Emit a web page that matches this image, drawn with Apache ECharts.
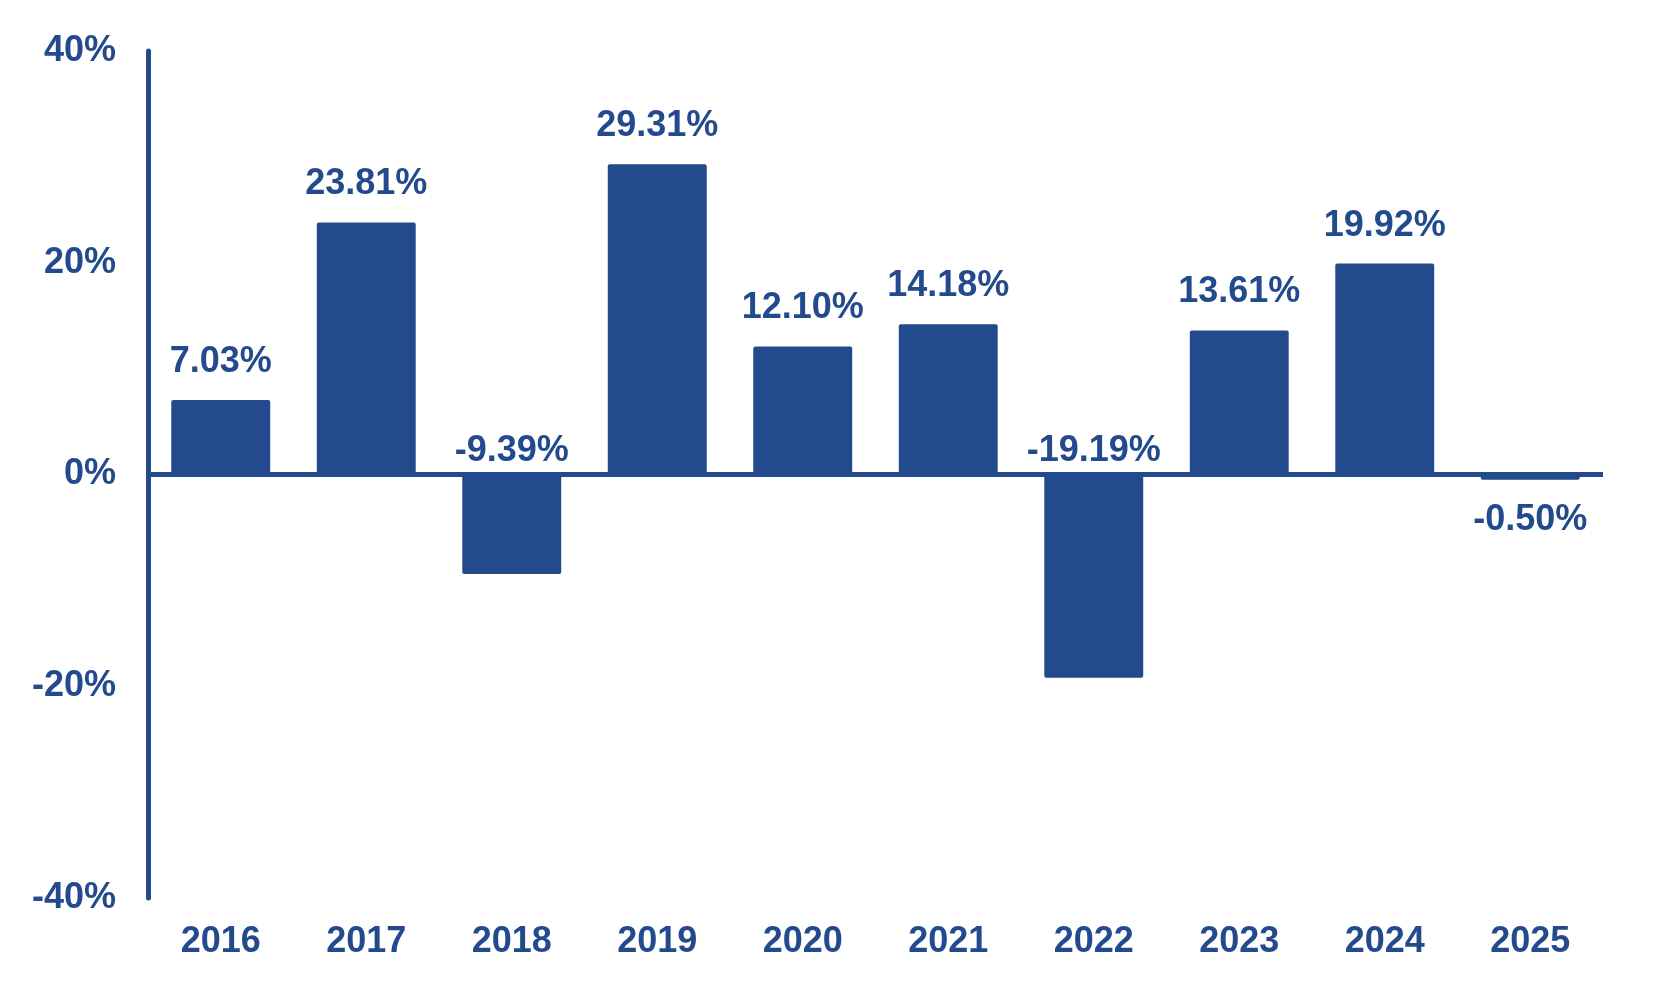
<!DOCTYPE html>
<html>
<head>
<meta charset="utf-8">
<script src="https://cdn.jsdelivr.net/npm/echarts@6/dist/echarts.min.js"></script>
<style>
html,body{margin:0;padding:0;background:#fff;}
#chart{width:1654px;height:990px;}
</style>
</head>
<body>
<div id="chart"></div>
<script>
const categories = ['2016','2017','2018','2019','2020','2021','2022','2023','2024','2025'];
const returns = [7.03, 23.81, -9.39, 29.31, 12.10, 14.18, -19.19, 13.61, 19.92, -0.50];
const labelTexts = ['7.03%','23.81%','-9.39%','29.31%','12.10%','14.18%','-19.19%','13.61%','19.92%','-0.50%'];
// label placement per bar: 'top' = above rect on screen, 'bottom' = below rect
const labelPlacement = ['top','top','top','top','top','top','top','top','top','bottom'];

const COLOR = '#234A8C';
const FONT = '"Liberation Sans", Arial, sans-serif';

const chart = echarts.init(document.getElementById('chart'), null, {renderer:'canvas'});

const data = returns.map((v, i) => {
  const pos = labelPlacement[i];
  let dist = 20;
  if (v < 0 && pos === 'top') dist = 5;
  if (pos === 'bottom') dist = 22;
  return {
    value: v,
    label: { position: pos, distance: dist, formatter: labelTexts[i] }
  };
});

chart.setOption({
  animation: false,
  backgroundColor: '#ffffff',
  grid: { left: 148, right: 51, top: 51, bottom: 92, containLabel: false },
  xAxis: {
    type: 'category',
    data: categories,
    axisLine: { show: false, onZero: false },
    axisTick: { show: false },
    axisLabel: { color: COLOR, fontFamily: FONT, fontWeight: 'bold', fontSize: 36, margin: 26 }
  },
  yAxis: {
    type: 'value',
    min: -40, max: 40, interval: 20,
    axisLine: { show: true, lineStyle: { color: COLOR, width: 5 } },
    axisTick: { show: false },
    splitLine: { show: false },
    axisLabel: { color: COLOR, fontFamily: FONT, fontWeight: 'bold', fontSize: 36, margin: 32, formatter: '{value}%' }
  },
  series: [{
    type: 'bar',
    data: data,
    barWidth: '68%',
    itemStyle: { color: COLOR, borderRadius: 2 },
    label: { show: true, color: COLOR, fontFamily: FONT, fontWeight: 'bold', fontSize: 36 },
    markLine: {
      silent: true,
      symbol: 'none',
      label: { show: false },
      lineStyle: { color: COLOR, width: 5, type: 'solid' },
      data: [{ yAxis: 0 }]
    }
  }]
});
</script>
</body>
</html>
